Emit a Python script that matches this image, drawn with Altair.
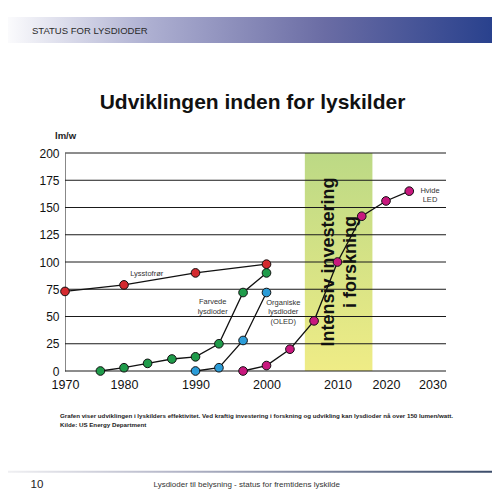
import altair as alt
import pandas as pd

# ---- data ----
series_names = ["Lysstofrør", "Farvede lysdioder", "Organiske lysdioder (OLED)", "Hvide LED"]
series_colors = ["#d42a2f", "#1f9b4a", "#2b9cd8", "#c8187e"]

lys_years = [1970, 1980, 1990, 2000]
lys_vals = [73, 79, 90, 98]

farv_years = [1976, 1980, 1983.3, 1986.7, 1990, 1993.3, 1996.7, 2000]
farv_vals = [0, 3, 7, 11, 13, 25, 72, 90]

oled_years = [1990, 1993.3, 1996.7, 2000]
oled_vals = [0, 3, 28, 72]

hvid_years = [1996.7, 2000, 2003.3, 2006.7, 2010, 2015, 2020, 2025]
hvid_vals = [0, 5, 20, 46, 100, 142, 156, 165]

band_start = [2005.4]
band_end = [2017.2]

x_ticks = [1970, 1980, 1990, 2000, 2010, 2020, 2030]
y_ticks = [0, 25, 50, 75, 100, 125, 150, 175, 200]

# ---- tables ----
rows = []
for name, ys, vs in zip(series_names,
                        [lys_years, farv_years, oled_years, hvid_years],
                        [lys_vals, farv_vals, oled_vals, hvid_vals]):
    for yr, v in zip(ys, vs):
        rows.append({"year": yr, "value": v, "series": name})
df = pd.DataFrame(rows)
band_df = pd.DataFrame({"start": band_start, "end": band_end, "top": [200], "bottom": [0]})
grid_df = pd.DataFrame({"v": y_ticks})
one = pd.DataFrame({"a": [0]})

W, H = 381, 218
xscale = alt.Scale(domain=x_ticks, range=[0, 59, 130.5, 201.5, 272.5, 321, 367.5])
yscale = alt.Scale(domain=[0, 200])
FONT = "Liberation Sans"

xaxis = alt.Axis(values=x_ticks, format="d", title=None, grid=False, ticks=False,
                 domain=False, labelFontSize=12.5, labelFont=FONT,
                 labelColor="#111", labelPadding=7, labelFlush=False,
                 labelOverlap=False, labelAlign="center")
yaxis = alt.Axis(values=y_ticks, title=None, grid=False, ticks=False,
                 domain=True, domainColor="#888", domainWidth=1,
                 labelFontSize=12, labelFont=FONT, labelColor="#111",
                 labelPadding=6, labelFlush=False, labelOverlap=False)


def txt(text, x, y, size, bold=False, align="center", angle=0, lh=None, color="#222"):
    kw = dict(text=text, fontSize=size, font=FONT, align=align, baseline="middle", color=color)
    if bold:
        kw["fontWeight"] = "bold"
    if angle:
        kw["angle"] = angle
    if lh:
        kw["lineHeight"] = lh
    return alt.Chart(one).mark_text(**kw).encode(x=alt.value(x), y=alt.value(y))


header = alt.Chart(one).mark_rect(
    fill=alt.Gradient(gradient="linear", x1=0, y1=0, x2=1, y2=0,
                      stops=[alt.GradientStop(offset=0, color="#ffffff"),
                             alt.GradientStop(offset=0.3, color="#adafd1"),
                             alt.GradientStop(offset=0.65, color="#6a6ca4"),
                             alt.GradientStop(offset=1, color="#263f8c")])
).encode(x=alt.value(-65), x2=alt.value(435), y=alt.value(-136), y2=alt.value(-110))

footer_line = alt.Chart(one).mark_rect(
    fill=alt.Gradient(gradient="linear", x1=0, y1=0, x2=1, y2=0,
                      stops=[alt.GradientStop(offset=0, color="#f2f2f4"),
                             alt.GradientStop(offset=0.35, color="#b4b6c8"),
                             alt.GradientStop(offset=1, color="#394a68")])
).encode(x=alt.value(-65), x2=alt.value(435), y=alt.value(317.8), y2=alt.value(319.8))

band = alt.Chart(band_df).mark_rect(
    fill=alt.Gradient(gradient="linear", x1=0, y1=0, x2=0, y2=1,
                      stops=[alt.GradientStop(offset=0, color="#bcd985"),
                             alt.GradientStop(offset=1, color="#efec86")])
).encode(
    x=alt.X("start:Q", scale=xscale, axis=xaxis),
    x2="end:Q",
    y=alt.Y("top:Q", scale=yscale, axis=yaxis),
    y2="bottom:Q",
)

grid = alt.Chart(grid_df).mark_rule(color="#1a1a1a", strokeWidth=1).encode(
    y=alt.Y("v:Q", scale=yscale, axis=yaxis),
    x=alt.value(0), x2=alt.value(W),
)

intensiv = txt(["Intensiv investering", "i forskning"], 264, 109, 18, bold=True,
               angle=270, lh=22, color="#111")

lines = alt.Chart(df).mark_line(color="#111", strokeWidth=1.3).encode(
    x=alt.X("year:Q", scale=xscale, axis=xaxis),
    y=alt.Y("value:Q", scale=yscale, axis=yaxis),
    detail="series:N",
)

points = alt.Chart(df).mark_point(filled=True, size=75, stroke="#111", strokeWidth=1,
                                  opacity=1).encode(
    x=alt.X("year:Q", scale=xscale, axis=xaxis),
    y=alt.Y("value:Q", scale=yscale, axis=yaxis),
    fill=alt.Fill("series:N", scale=alt.Scale(domain=series_names, range=series_colors),
                  legend=None),
)

labels = [
    txt("STATUS FOR LYSDIODER", -33, -122.5, 9.5, align="left", color="#2a2a2a"),
    txt("Udviklingen inden for lyskilder", 187.5, -50, 21, bold=True, color="#111"),
    txt("lm/w", -10, -17, 9.5, bold=True, align="left"),
    txt("Lysstofrør", 81.7, 121, 7.5, color="#333"),
    txt(["Farvede", "lysdioder"], 147.7, 149.3, 7.5, lh=10, color="#333"),
    txt(["Organiske", "lysdioder", "(OLED)"], 218.3, 149.7, 7.5, lh=9.5, color="#333"),
    txt(["Hvide", "LED"], 365, 37.7, 7.5, lh=9.6, color="#333"),
    txt(["Grafen viser udviklingen i lyskilders effektivitet. Ved kraftig investering i forskning og udvikling kan lysdioder nå over 150 lumen/watt.",
         "Kilde: US Energy Department"], -5, 263, 6.2, bold=True, align="left", lh=9, color="#222"),
    txt("10", -28, 332, 11.5, color="#222"),
    txt("Lysdioder til belysning - status for fremtidens lyskilde", 181.7, 332, 8, color="#333"),
]

chart = alt.layer(
    header, footer_line, band, grid, intensiv, lines, points, *labels
).properties(
    width=W, height=H,
    autosize=alt.AutoSizeParams(type="none"),
    padding={"left": 57, "top": 145, "right": 46, "bottom": 121},
    background="white",
).configure_view(stroke="transparent")

chart.save("out.html", embed_options={"renderer": "svg", "actions": False})
